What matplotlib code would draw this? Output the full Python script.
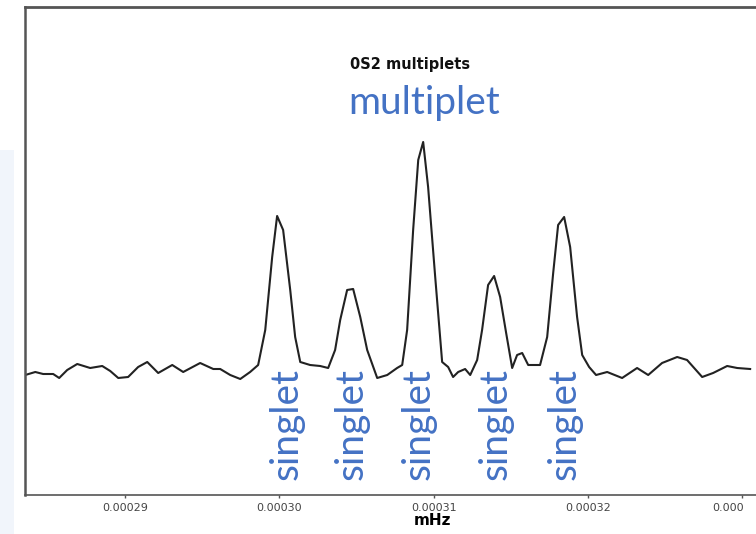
import numpy as np
import matplotlib.pyplot as plt
from matplotlib.patches import Rectangle
from matplotlib.transforms import ScaledTranslation

# spectrum of the 0S2 multiplet (frequency in mHz, amplitude in arbitrary units)
freq = [0.00028352, 0.00028417, 0.00028468, 0.00028533, 0.00028572, 0.00028624,
        0.00028689, 0.00028773, 0.00028851, 0.00028903, 0.00028955, 0.00029019,
        0.00029084, 0.00029143, 0.00029214, 0.00029305, 0.00029376, 0.00029486,
        0.00029571, 0.00029616, 0.00029681, 0.00029746, 0.00029810, 0.00029862,
        0.00029908, 0.00029953, 0.00029985, 0.00030024, 0.00030070, 0.00030102,
        0.00030135, 0.00030199, 0.00030264, 0.00030316, 0.00030361, 0.00030394,
        0.00030439, 0.00030478, 0.00030524, 0.00030569, 0.00030634, 0.00030699,
        0.00030763, 0.00030796, 0.00030828, 0.00030867, 0.00030900, 0.00030932,
        0.00030964, 0.00031010, 0.00031055, 0.00031094, 0.00031126, 0.00031159,
        0.00031204, 0.00031237, 0.00031282, 0.00031314, 0.00031353, 0.00031392,
        0.00031431, 0.00031470, 0.00031509, 0.00031541, 0.00031574, 0.00031613,
        0.00031690, 0.00031736, 0.00031775, 0.00031807, 0.00031846, 0.00031885,
        0.00031930, 0.00031963, 0.00032008, 0.00032053, 0.00032125, 0.00032222,
        0.00032319, 0.00032391, 0.00032481, 0.00032579, 0.00032643, 0.00032741,
        0.00032812, 0.00032903, 0.00032968, 0.00033052]
amp = [1.20, 1.23, 1.21, 1.21, 1.17, 1.25, 1.31, 1.27, 1.29, 1.24, 1.17, 1.18,
       1.28, 1.33, 1.22, 1.30, 1.23, 1.32, 1.26, 1.26, 1.20, 1.16, 1.23, 1.30,
       1.65, 2.38, 2.79, 2.65, 2.05, 1.58, 1.33, 1.30, 1.29, 1.27, 1.45, 1.75,
       2.05, 2.06, 1.78, 1.45, 1.17, 1.20, 1.27, 1.30, 1.65, 2.65, 3.35, 3.53,
       3.08, 2.18, 1.33, 1.28, 1.18, 1.23, 1.26, 1.20, 1.35, 1.65, 2.10, 2.19,
       1.98, 1.62, 1.27, 1.40, 1.42, 1.30, 1.30, 1.58, 2.22, 2.70, 2.78, 2.48,
       1.78, 1.40, 1.28, 1.20, 1.23, 1.17, 1.27, 1.20, 1.32, 1.38, 1.35, 1.18,
       1.22, 1.29, 1.27, 1.26]

ticks = [0.00029, 0.00030, 0.00031, 0.00032, 0.00033]
tick_labels = ['0.00029', '0.00030', '0.00031', '0.00032', '0.000']

# where the singlet labels sit along the frequency axis
singlet_freq = [0.00030046, 0.00030468, 0.00030903, 0.00031402, 0.00031850]

blue = '#4472C4'
label_font = ['Lato', 'DejaVu Sans']

fig = plt.figure(figsize=(7.56, 5.34), dpi=100)
fig.patch.set_facecolor('white')

# faint slide background peeking in on the far left
fig.patches.append(Rectangle((0, 0.0), 0.018, 0.72, transform=fig.transFigure,
                             facecolor='#f1f5fb', edgecolor='none', zorder=0))

ax = fig.add_axes([0.033, 0.073, 0.967, 0.914])
ax.plot(freq, amp, color='#222222', lw=1.5)

ax.set_xlim(0.0002835, 0.0003309)
ax.set_ylim(0, 4.88)

for side in ['left', 'top', 'bottom']:
    ax.spines[side].set_color('#555555')
ax.spines['left'].set_linewidth(1.8)
ax.spines['top'].set_linewidth(2.0)
ax.spines['bottom'].set_linewidth(1.2)
ax.spines['right'].set_visible(False)

ax.set_yticks([])
ax.set_xticks(ticks)
ax.set_xticklabels(tick_labels, fontsize=8, color='#444444')
ax.tick_params(axis='x', length=2.5, width=1, color='#555555', pad=3)

# last label sits at the right edge, nudge it inwards
last = ax.get_xticklabels()[-1]
last.set_transform(last.get_transform() + ScaledTranslation(-10 / 72, 0, fig.dpi_scale_trans))

ax.set_xlabel('mHz', fontsize=11, fontweight='bold')
ax.xaxis.set_label_coords(0.558, -0.036)

ax.text(0.00030848, 4.30, '0S2 multiplets', fontsize=10.5, fontweight='bold',
        ha='center', va='center', color='#111111')
ax.text(0.00030935, 3.92, 'multiplet', fontsize=28, color=blue,
        ha='center', va='center', family=label_font)

for f in singlet_freq:
    ax.text(f, 0.71, 'singlet', fontsize=28, color=blue, rotation=90,
            ha='center', va='center', family=label_font)

fig.savefig('out.png', dpi=100)
